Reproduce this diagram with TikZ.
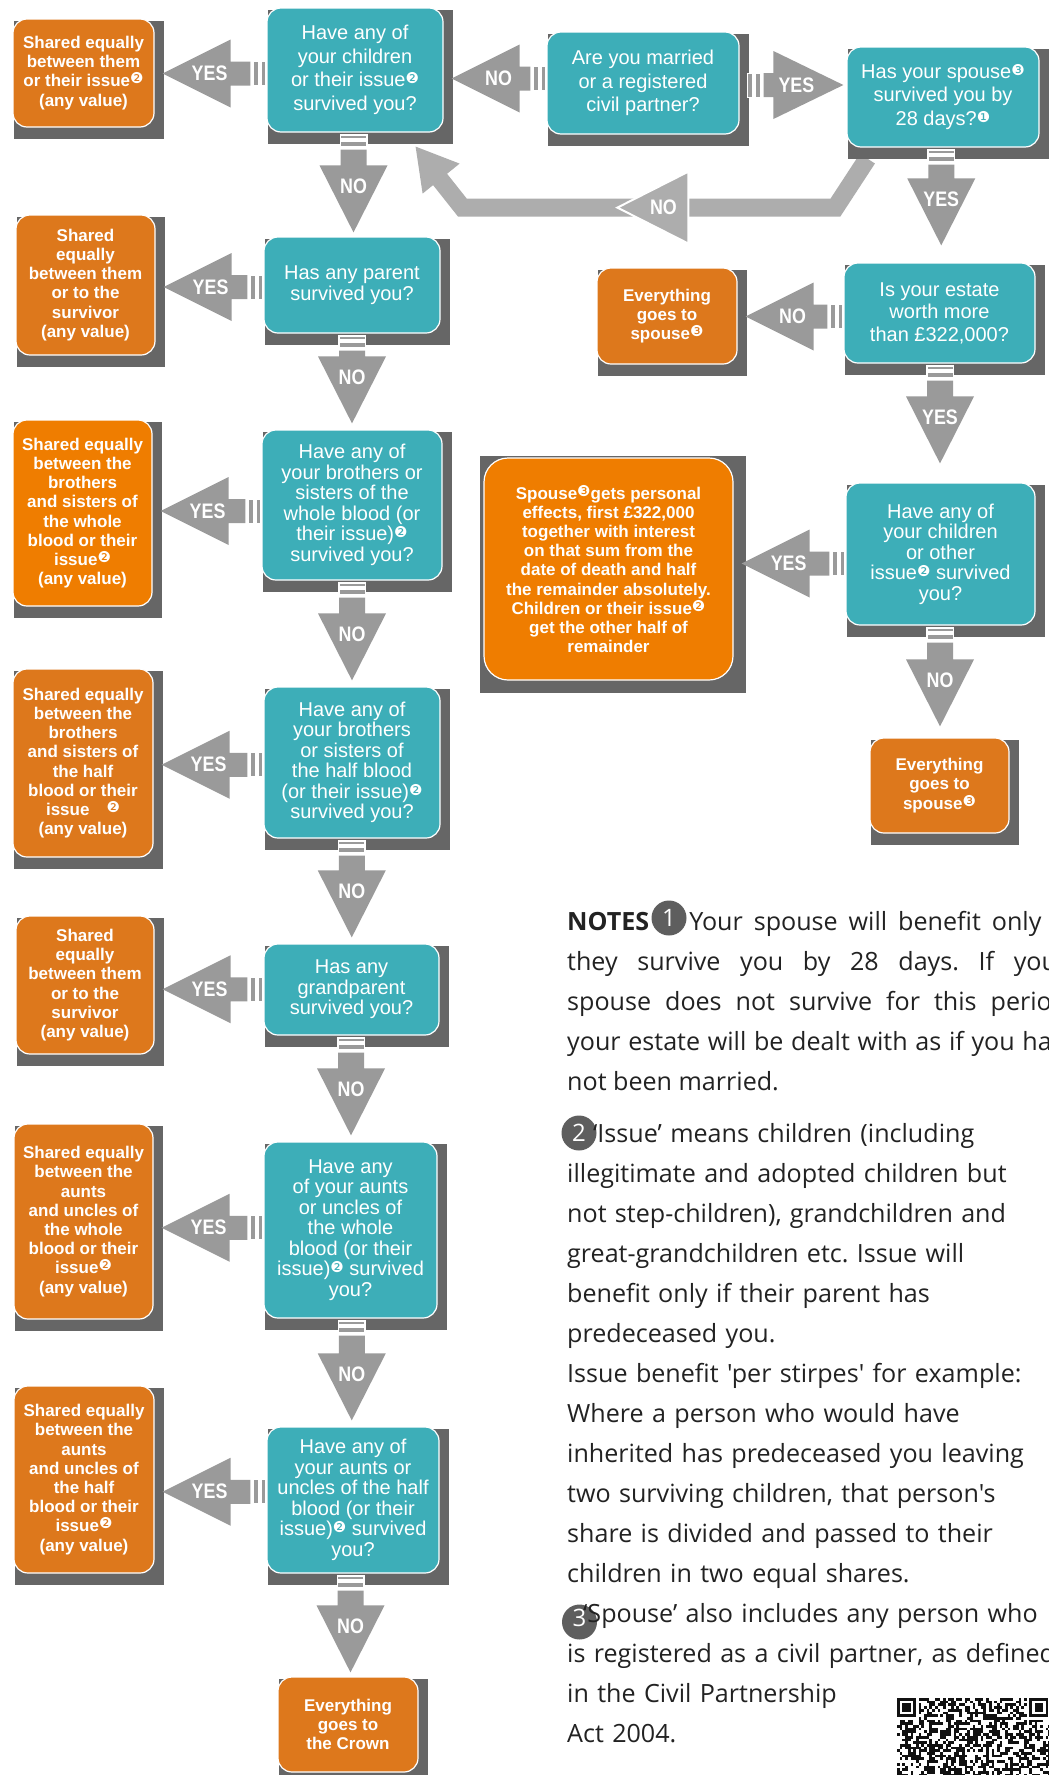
\documentclass[tikz,border=0pt]{standalone}
\usepackage{fontspec}
\setmainfont{Liberation Sans}
\newfontfamily\notesfont{Open Sans}
\newfontfamily\dingfont{DejaVu Sans}
\newfontfamily\narrowfont[FakeStretch=0.85]{Liberation Sans}
\usetikzlibrary{calc,backgrounds}
\frenchspacing

\definecolor{qteal}{HTML}{3DAEB8}
\definecolor{aorange}{HTML}{DD781C}
\definecolor{borange}{HTML}{EF7D00}
\definecolor{shadowgray}{HTML}{666666}
\definecolor{arrowgray}{HTML}{9A9A9A}
\definecolor{bendgray}{HTML}{ADADAD}
\definecolor{notegray}{HTML}{5E5E5E}
\definecolor{notetext}{HTML}{222222}
\definecolor{qrblack}{HTML}{111111}

% small circled numbers in the boxes
\newcommand{\cnum}[1]{\raisebox{3pt}{\dingfont\mdseries\fontsize{15}{15}\selectfont #1}}

% block arrows between two named boxes
\newcommand{\leftblock}[3]{%
  \coordinate (mid) at ($(#1.center)!.5!(#2.center)+(0,2)$);
  \coordinate (tail) at (#1.west |- mid);
  \coordinate (tip) at ($(#2.east |- mid)+(8,0)$);
  \fill[arrowgray] (tip) -- ($(tip)+(68,-34)$) -- ($(tip)+(68,-12)$) -- ($(tail)+(-16,-12)$)
    -- ($(tail)+(-16,12)$) -- ($(tip)+(68,12)$) -- ($(tip)+(68,34)$) -- cycle;
  \path[stripe] ($(tail)+(-13,-12)$) rectangle ($(tail)+(-8,12)$);
  \path[stripe] ($(tail)+(-5,-12)$) rectangle ($(tail)+(-1,12)$);
  \node[lbl] at ($(tip)+(47,0)$) {#3};}
\newcommand{\rightblock}[3]{%
  \coordinate (mid) at ($(#1.center)!.5!(#2.center)+(0,-5)$);
  \coordinate (tail) at (#1.east |- mid);
  \coordinate (tip) at ($(#2.west |- mid)+(-3,0)$);
  \fill[arrowgray] (tip) -- ($(tip)+(-70,-34)$) -- ($(tip)+(-70,-12)$) -- ($(tail)+(24,-12)$)
    -- ($(tail)+(24,12)$) -- ($(tip)+(-70,12)$) -- ($(tip)+(-70,34)$) -- cycle;
  \path[stripe] ($(tail)+(8,-12)$) rectangle ($(tail)+(13,12)$);
  \path[stripe] ($(tail)+(16,-12)$) rectangle ($(tail)+(21,12)$);
  \node[lbl] at ($(tip)+(-47,0)$) {#3};}
\newcommand{\downblock}[4][6]{%
  \coordinate (mid) at ($(#2.center)!.5!(#3.center)$);
  \coordinate (tail) at (mid |- #2.south);
  \coordinate (tip) at ($(mid |- #3.north)+(0,-#1)$);
  \fill[white] ($(tail)+(-14,1)$) rectangle ($(tail)+(14,16)$);
  \path[stripe] ($(tail)+(-13,3)$) rectangle ($(tail)+(13,6)$);
  \path[stripe] ($(tail)+(-13,9)$) rectangle ($(tail)+(13,14)$);
  \fill[arrowgray] (tip) -- ($(tip)+(-34,-67)$) -- ($(tip)+(-13,-67)$) -- ($(tail)+(-13,17)$)
    -- ($(tail)+(13,17)$) -- ($(tip)+(13,-67)$) -- ($(tip)+(34,-67)$) -- cycle;
  \node[lbl] at ($(tip)+(0,-46)$) {#4};}

\begin{document}
\begin{tikzpicture}[x=1pt,y=-1pt,
  box/.style={rounded corners=14pt,draw=white,line width=1.2pt,text=white,inner sep=0pt,align=center},
  qbox/.style={box,fill=qteal,font=\fontsize{20}{20.5}\selectfont},
  loose/.style={font=\fontsize{20}{23.5}\selectfont},
  abox/.style={box,fill=aorange,font=\bfseries\fontsize{17}{19.2}\selectfont},
  boxsize/.style 2 args={minimum width=#1pt,minimum height=#2pt},
  lbl/.style={text=white,inner sep=0pt,font=\narrowfont\bfseries\fontsize{21}{21}\selectfont},
  stripe/.style={fill=arrowgray,draw=white,line width=1pt},
  note/.style={text=notetext,inner sep=0pt,font=\notesfont\fontsize{25.1}{40}\selectfont},
  notenum/.style={circle,fill=notegray,minimum size=35pt,inner sep=0pt,text=white,
    font=\notesfont\fontsize{24}{24}\selectfont}]

  \useasboundingbox (0,0) rectangle (1049,1775);

  % top row
  \node[abox,boxsize={141}{108}] (L1) at (83.5,73) {Shared equally\\between them\\or their issue\cnum{❷}\\(any value)};
  \node[qbox,loose,boxsize={176}{124}] (Q1) at (355,70) {Have any of\\your children\\or their issue\cnum{❷}\\survived you?};
  \node[qbox,loose,boxsize={192}{102}] (M) at (643,83) {Are you married\\or a registered\\civil partner?};
  \node[qbox,loose,boxsize={192}{100}] (S) at (943,97) {Has your spouse\cnum{❸}\\survived you by\\28 days?\cnum{❶}};

  % second row
  \node[abox,boxsize={139}{140}] (L2) at (85.5,285) {Shared\\equally\\between them\\or to the\\survivor\\(any value)};
  \node[qbox,boxsize={176}{96},font=\fontsize{20}{21.5}\selectfont] (Q2) at (352,285) {Has any parent\\survived you?};
  \node[abox,boxsize={140}{96}] (E1) at (667,316) {Everything\\goes to\\spouse\cnum{❸}};
  \node[qbox,boxsize={191}{100},font=\fontsize{20}{22.5}\selectfont] (E) at (939.5,313) {Is your estate\\worth more\\than £322,000?};

  % third row
  \node[abox,fill=borange,boxsize={139}{186}] (L3) at (82.5,513) {Shared equally\\between the\\brothers\\and sisters of\\the whole\\blood or their\\issue\cnum{❷}\\(any value)};
  \node[qbox,boxsize={180}{150}] (Q3) at (352,505) {Have any of\\your brothers or\\sisters of the\\whole blood (or\\their issue)\cnum{❷}\\survived you?};
  \node[abox,fill=borange,rounded corners=24pt,boxsize={249}{222}] (SP) at (608.5,569) {Spouse\cnum{❸}gets personal\\effects, first £322,000\\together with interest\\on that sum from the\\date of death and half\\the remainder absolutely.\\Children or their issue\cnum{❷}\\get the other half of\\remainder};
  \node[qbox,boxsize={189}{142}] (Q4) at (940.5,554) {Have any of\\your children\\or other\\issue\cnum{❷} survived\\you?};
  \node[abox,boxsize={139}{95}] (E2) at (939.5,785.5) {Everything\\goes to\\spouse\cnum{❸}};

  % lower rows
  \node[abox,boxsize={140}{188}] (L4) at (83,763) {Shared equally\\between the\\brothers\\and sisters of\\the half\\blood or their\\issue\quad\cnum{❷}\\(any value)};
  \node[qbox,boxsize={176}{151}] (Q5) at (352,762.5) {Have any of\\your brothers\\or sisters of\\the half blood\\(or their issue)\cnum{❷}\\survived you?};
  \node[abox,boxsize={138}{138}] (L5) at (85,985) {Shared\\equally\\between them\\or to the\\survivor\\(any value)};
  \node[qbox,boxsize={175}{91}] (Q6) at (351.5,989.5) {Has any\\grandparent\\survived you?};
  \node[abox,boxsize={139}{195}] (L6) at (83.5,1221.5) {Shared equally\\between the\\aunts\\and uncles of\\the whole\\blood or their\\issue\cnum{❷}\\(any value)};
  \node[qbox,boxsize={173}{176}] (Q7) at (350.5,1230) {Have any\\of your aunts\\or uncles of\\the whole\\blood (or their\\issue)\cnum{❷} survived\\you?};
  \node[abox,boxsize={140}{187}] (L7) at (84,1479.5) {Shared equally\\between the\\aunts\\and uncles of\\the half\\blood or their\\issue\cnum{❷}\\(any value)};
  \node[qbox,boxsize={172}{146}] (Q8) at (353,1500) {Have any of\\your aunts or\\uncles of the half\\blood (or their\\issue)\cnum{❷} survived\\you?};
  \node[abox,boxsize={140}{95}] (CR) at (348,1724.5) {Everything\\goes to\\the Crown};

  % arrows
  \leftblock{Q1}{L1}{YES}
  \leftblock{M}{Q1}{NO}
  \rightblock{M}{S}{YES}
  \downblock[4]{Q1}{Q2}{NO}
  \downblock[17]{S}{E}{YES}
  \leftblock{Q2}{L2}{YES}
  \leftblock{E}{E1}{NO}
  \downblock{Q2}{Q3}{NO}
  \downblock[19]{E}{Q4}{YES}
  \leftblock{Q3}{L3}{YES}
  \leftblock{Q4}{SP}{YES}
  \downblock{Q3}{Q5}{NO}
  \downblock[11]{Q4}{E2}{NO}
  \leftblock{Q5}{L4}{YES}
  \downblock{Q5}{Q6}{NO}
  \leftblock{Q6}{L5}{YES}
  \downblock{Q6}{Q7}{NO}
  \leftblock{Q7}{L6}{YES}
  \downblock{Q7}{Q8}{NO}
  \leftblock{Q8}{L7}{YES}
  \downblock[4]{Q8}{CR}{NO}

  % spouse did not survive: back to the children question
  \coordinate (bendstart) at ($(S.south west)+(21,11)$);
  \coordinate (bendtip) at ($(Q1.south east)+(-28,14)$);
  \fill[bendgray] (bendtip) -- ++(44,17) -- ++(-37,30) -- cycle;
  \draw[fill=bendgray,draw=white,line width=2pt] ($(bendstart)+(-250,49)$) -- ++(71,-36) -- ++(0,72) -- cycle;
  \node[lbl] at ($(bendstart)+(-204,49)$) {NO};

  % notes
  \node[notenum] (n1) at (669,918) {1};
  \node[notenum] (n2) at (579,1133) {2};
  \node[notenum] (n3) at (579.5,1622) {\raisebox{9pt}{3}};
  \node[note,anchor=base west,text width=500pt,align=justify] (N1) at (567,930)
    {\textbf{NOTES}\hspace{40pt}Your spouse will benefit only if\linebreak
     they survive you by 28 days. If your\linebreak
     spouse does not survive for this period\linebreak
     your estate will be dealt with as if you had\linebreak
     not been married.};
  \node[note,anchor=base west,text width=560pt,align=left] (N2) at (567,1142)
    {\hspace{26pt}‘Issue’ means children (including\\
     illegitimate and adopted children but\\
     not step-children), grandchildren and\\
     great-grandchildren etc. Issue will\\
     benefit only if their parent has\\
     predeceased you.\\
     Issue benefit 'per stirpes' for example:\\
     Where a person who would have\\
     inherited has predeceased you leaving\\
     two surviving children, that person's\\
     share is divided and passed to their\\
     children in two equal shares.\\
     \hspace{16pt}‘Spouse’ also includes any person who\\
     is registered as a civil partner, as defined\\
     in the Civil Partnership\\
     Act 2004.};

  % qr code
  \begin{scope}[shift={(897,1698)}]
    \pgfmathsetseed{4}
    \foreach \r in {0,...,28}{
      \foreach \c in {0,...,56}{
        \pgfmathrandominteger{\bit}{0}{1}
        \ifnum\bit=1 \fill[qrblack] (\c*2.7,\r*2.7) rectangle ++(2.7,2.7);\fi
      }
    }
    \foreach \c in {0,49}{
      \fill[white] (\c*2.7-2.7,-1) rectangle ++(9*2.7,8*2.7+1);
      \fill[qrblack] (\c*2.7,0) rectangle ++(7*2.7,7*2.7);
      \fill[white] (\c*2.7+2.7,2.7) rectangle ++(5*2.7,5*2.7);
      \fill[qrblack] (\c*2.7+5.4,5.4) rectangle ++(3*2.7,3*2.7);
    }
  \end{scope}

  \begin{scope}[on background layer]
    \fill[white] (0,0) rectangle (1049,1775);
    \draw[bendgray,line width=18pt] (bendstart) -- ++(-32,49) -- ++(-373,0) -- ++(-23,-29);
    \foreach \n in {L1,Q1,M,S,L2,Q2,E1,E,L3,Q3,Q4,E2,L4,Q5,L5,Q6,L6,Q7,L7,Q8,CR}
      \fill[shadowgray] ($(\n.north west)+(2,3)$) rectangle ($(\n.south east)+(9,11)$);
    \fill[shadowgray] ($(SP.north west)+(-3,-1)$) rectangle ($(SP.south east)+(12,12)$);
  \end{scope}
\end{tikzpicture}
\end{document}
